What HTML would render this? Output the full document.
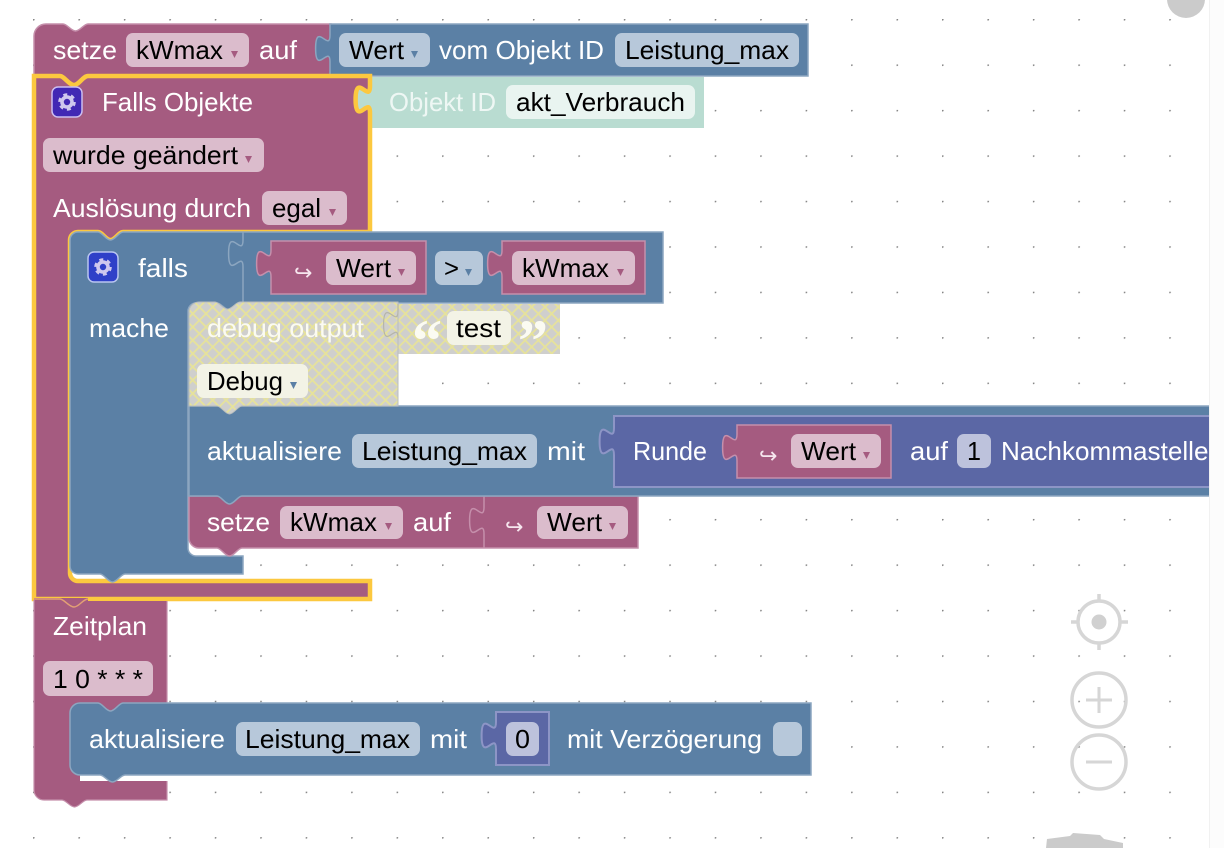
<!DOCTYPE html>
<html><head><meta charset="utf-8"><style>
html,body{margin:0;padding:0;background:#fff;width:1224px;height:848px;overflow:hidden}
svg{display:block}
text{font-family:"Liberation Sans",sans-serif;font-size:26px}
.l{fill:#fff}.k{fill:#000}
.m{fill:#a55b80;stroke:#c58fab;stroke-width:1.5}
.b{fill:#5b80a5;stroke:#8ca6c0;stroke-width:1.5}
.p{fill:#5b67a5;stroke:#8d95c6;stroke-width:2}
.fm{fill:#dbbccc}.fb{fill:#b7c8da}.fp{fill:#bdc2dc}.fy{fill:#f3f3e6}.ft{fill:#e9f4f0}
.am{fill:#a55b80}.ab{fill:#5b80a5}
.c{fill:none;stroke:#d6d6d6;stroke-width:3.5}
.c2{fill:none;stroke:#d6d6d6;stroke-width:3}
.ar{font-family:"DejaVu Sans",sans-serif;font-size:22px;fill:#f6e6ee}
</style></head><body>
<svg width="1224" height="848" viewBox="0 0 1224 848" xmlns="http://www.w3.org/2000/svg">
<defs>
<pattern id="dots" x="33" y="19" width="45.45" height="45.45" patternUnits="userSpaceOnUse"><circle cx="0.6" cy="0.6" r="1" fill="#858585"/></pattern>
<pattern id="h" width="9.4" height="9.4" patternUnits="userSpaceOnUse" patternTransform="rotate(45)"><rect width="9.4" height="9.4" fill="#cfcfcd"/><path d="M0,0H9.4M0,0V9.4" stroke="#e6e29b" stroke-width="3.6"/></pattern>
<g id="gear"><circle r="5" fill="none" stroke="#cfc8ee" stroke-width="3.6"/><circle r="7.4" fill="none" stroke="#cfc8ee" stroke-width="2.8" stroke-dasharray="3.9 3.85"/></g>
</defs>
<rect width="1224" height="848" fill="#fff"/>
<rect x="20" y="0" width="1160" height="848" fill="url(#dots)"/>
<circle cx="1186" cy="-1" r="19" fill="#cbcbcb"/>

<!-- controls -->
<g>
<circle class="c" cx="1099" cy="622" r="21"/><circle cx="1099" cy="622" r="7.5" fill="#d0d0d0"/>
<path class="c" d="M1099,594V601M1099,643V650M1071,622H1078M1120,622H1128"/>
<circle class="c" cx="1099" cy="700" r="27"/><path class="c2" d="M1086,700H1112M1099,687V713"/>
<circle class="c" cx="1099" cy="762" r="27"/><path class="c2" d="M1086,762H1112"/>
<path d="M1047,839L1070,836L1073,833L1100,835L1104,839L1123,843V848H1046Z" fill="#cbcbcb"/>
</g>

<!-- top setze -->
<path class="m" d="M34,36a12,12 0 0 1 12,-12H63c4,0 8,7 12.5,7c4.5,0 8.5,-7 12.5,-7H331V76H88c-4,0 -9,9 -14,9c-5,0 -10,-9 -14,-9H34Z"/>
<path class="b" d="M330,24V35c0,18 -14.4,-14.4 -14.4,13.5s14.4,-4.5 14.4,13.5V76H808V24Z"/>
<text class="l" x="53" y="59" textLength="64" lengthAdjust="spacingAndGlyphs">setze</text>
<rect class="fm" x="126" y="33" width="123" height="34" rx="7"/>
<text class="k" x="136" y="59" textLength="87" lengthAdjust="spacingAndGlyphs">kWmax</text>
<polygon class="am" points="231,51 238,51 234.5,58"/>
<text class="l" x="259" y="59" textLength="38" lengthAdjust="spacingAndGlyphs">auf</text>
<rect class="fb" x="339" y="33" width="91" height="34" rx="7"/>
<text class="k" x="349" y="59" textLength="55" lengthAdjust="spacingAndGlyphs">Wert</text>
<polygon class="ab" points="411,51 418,51 414.5,58"/>
<text class="l" x="439" y="59" textLength="165" lengthAdjust="spacingAndGlyphs">vom Objekt ID</text>
<rect class="fb" x="615" y="33" width="184" height="34" rx="7"/>
<text class="k" x="625" y="59" textLength="164" lengthAdjust="spacingAndGlyphs">Leistung_max</text>

<!-- teal -->
<rect x="350" y="77" width="354" height="51" fill="#b9dcd1"/>
<text x="389" y="111" fill="#eef7f4" textLength="107" lengthAdjust="spacingAndGlyphs">Objekt ID</text>
<rect class="ft" x="506" y="85" width="189" height="34" rx="7"/>
<text class="k" x="516" y="111" textLength="169" lengthAdjust="spacingAndGlyphs">akt_Verbrauch</text>

<!-- falls objekte -->
<path d="M34,76H60c4,0 9,9 14,9c5,0 9,-9 14,-9H370V86c0,18 -14.4,-14.4 -14.4,13.5s14.4,-4.5 14.4,13.5V232H123c-4,0 -8,8 -12.5,8c-4.5,0 -8.5,-8 -12.5,-8H78a8,8 0 0 0 -8,8V573a8,8 0 0 0 8,8H370V599H34Z" fill="#a55b80" stroke="#fcc83f" stroke-width="4.5"/>
<rect x="52" y="87" width="30" height="30" rx="6" fill="#4128b4" stroke="#cbbdf0" stroke-width="1.5"/>
<use href="#gear" x="67" y="102"/>
<text class="l" x="102" y="111" textLength="151" lengthAdjust="spacingAndGlyphs">Falls Objekte</text>
<rect class="fm" x="43" y="138" width="221" height="34" rx="7"/>
<text class="k" x="53" y="164" textLength="185" lengthAdjust="spacingAndGlyphs">wurde geändert</text>
<polygon class="am" points="245,156 252,156 248.5,163"/>
<text class="l" x="53" y="217" textLength="198" lengthAdjust="spacingAndGlyphs">Auslösung durch</text>
<rect class="fm" x="262" y="191" width="85" height="34" rx="7"/>
<text class="k" x="272" y="217" textLength="49" lengthAdjust="spacingAndGlyphs">egal</text>
<polygon class="am" points="329,209 336,209 332.5,216"/>

<!-- falls -->
<path class="b" d="M78,232H98c4,0 8,8 12.5,8c4.5,0 8.5,-8 12.5,-8H663V303H242c-4,0 -8,7 -12.5,7c-4.5,0 -8.5,-7 -12.5,-7H196a8,8 0 0 0 -8,8V548a8,8 0 0 0 8,8H243V574H125c-4,0 -8,8 -12.5,8c-4.5,0 -8.5,-8 -12.5,-8H78a8,8 0 0 1 -8,-8V240a8,8 0 0 1 8,-8Z"/>
<path d="M243,232V240c0,18 -14.4,-14.4 -14.4,13.5s14.4,-4.5 14.4,13.5V302" fill="none" stroke="#8ca6c0" stroke-width="1.5"/>
<rect x="88" y="252" width="30" height="30" rx="6" fill="#2f40c8" stroke="#b9c5f0" stroke-width="1.5"/>
<use href="#gear" x="103" y="267"/>
<text class="l" x="138" y="277" textLength="50" lengthAdjust="spacingAndGlyphs">falls</text>
<text class="l" x="89" y="337" textLength="80" lengthAdjust="spacingAndGlyphs">mache</text>

<path class="m" d="M271,241V250c0,18 -14.4,-14.4 -14.4,13.5s14.4,-4.5 14.4,13.5V294H426V241Z"/>
<text class="ar" x="294" y="280">↪</text>
<rect class="fm" x="326" y="251" width="90" height="34" rx="7"/>
<text class="k" x="336" y="277" textLength="55" lengthAdjust="spacingAndGlyphs">Wert</text>
<polygon class="am" points="398,269 405,269 401.5,276"/>
<rect class="fb" x="435" y="251" width="48" height="34" rx="7"/>
<text class="k" x="444" y="277" textLength="15" lengthAdjust="spacingAndGlyphs">&gt;</text>
<polygon class="ab" points="465,269 472,269 468.5,276"/>
<path class="m" d="M502,241V250c0,18 -14.4,-14.4 -14.4,13.5s14.4,-4.5 14.4,13.5V294H645V241Z"/>
<rect class="fm" x="512" y="251" width="123" height="34" rx="7"/>
<text class="k" x="522" y="277" textLength="87" lengthAdjust="spacingAndGlyphs">kWmax</text>
<polygon class="am" points="617,269 624,269 620.5,276"/>

<!-- setze inner -->
<path class="m" d="M189,496H638V548H242c-4,0 -8,8 -12.5,8c-4.5,0 -8.5,-8 -12.5,-8H199a10,10 0 0 1 -10,-10Z"/>
<path d="M484,496V507c0,18 -14.4,-14.4 -14.4,13.5s14.4,-4.5 14.4,13.5V548" fill="none" stroke="#c58fab" stroke-width="1.5"/>
<text class="l" x="207" y="531" textLength="63" lengthAdjust="spacingAndGlyphs">setze</text>
<rect class="fm" x="280" y="506" width="123" height="33" rx="7"/>
<text class="k" x="290" y="531" textLength="87" lengthAdjust="spacingAndGlyphs">kWmax</text>
<polygon class="am" points="385,523 392,523 388.5,530"/>
<text class="l" x="413" y="531" textLength="38" lengthAdjust="spacingAndGlyphs">auf</text>
<text class="ar" x="505" y="534">↪</text>
<rect class="fm" x="537" y="506" width="91" height="33" rx="7"/>
<text class="k" x="547" y="531" textLength="55" lengthAdjust="spacingAndGlyphs">Wert</text>
<polygon class="am" points="609,523 616,523 612.5,530"/>

<!-- aktualisiere -->
<path class="b" d="M189,406H1220V496H242c-4,0 -8,8 -12.5,8c-4.5,0 -8.5,-8 -12.5,-8H189Z"/>
<text class="l" x="207" y="460" textLength="135" lengthAdjust="spacingAndGlyphs">aktualisiere</text>
<rect class="fb" x="352" y="434" width="185" height="34" rx="7"/>
<text class="k" x="362" y="460" textLength="165" lengthAdjust="spacingAndGlyphs">Leistung_max</text>
<text class="l" x="547" y="460" textLength="38" lengthAdjust="spacingAndGlyphs">mit</text>
<path class="p" d="M614,416V428c0,18 -14.4,-14.4 -14.4,13.5s14.4,-4.5 14.4,13.5V487H1220V416Z"/>
<text class="l" x="633" y="460" textLength="74" lengthAdjust="spacingAndGlyphs">Runde</text>
<path class="m" d="M737,425V434c0,18 -14.4,-14.4 -14.4,13.5s14.4,-4.5 14.4,13.5V478H891V425Z"/>
<text class="ar" x="759" y="463">↪</text>
<rect class="fm" x="791" y="434" width="90" height="34" rx="7"/>
<text class="k" x="801" y="460" textLength="55" lengthAdjust="spacingAndGlyphs">Wert</text>
<polygon class="am" points="863,452 870,452 866.5,459"/>
<text class="l" x="910" y="460" textLength="38" lengthAdjust="spacingAndGlyphs">auf</text>
<rect class="fp" x="957" y="434" width="34" height="34" rx="7"/>
<text class="k" x="967" y="460" textLength="14" lengthAdjust="spacingAndGlyphs">1</text>
<text class="l" x="1001" y="460" textLength="222" lengthAdjust="spacingAndGlyphs">Nachkommastellen</text>
<rect x="1209.5" y="0" width="15" height="848" fill="#fcfcfc"/>
<rect x="1209" y="0" width="1" height="848" fill="#f1f1f1"/>

<!-- debug -->
<rect x="380" y="304" width="180" height="50" fill="url(#h)"/>
<path d="M189,312a10,10 0 0 1 10,-10H215c4,0 8,7 12.5,7c4.5,0 8.5,-7 12.5,-7H398V406H242c-4,0 -8,8 -12.5,8c-4.5,0 -8.5,-8 -12.5,-8H189Z" fill="url(#h)" stroke="#b9bdbd" stroke-width="1"/>
<path d="M398,304V311c0,18 -14.4,-14.4 -14.4,13.5s14.4,-4.5 14.4,13.5" fill="none" stroke="#b5b5a8" stroke-width="1.2"/>
<text x="207" y="337" fill="#fbfbf2" textLength="157" lengthAdjust="spacingAndGlyphs">debug output</text>
<text x="412" y="361" fill="#fbfbf2" style="font-family:'Liberation Serif',serif;font-size:60px;font-weight:bold">“</text>
<rect class="fy" x="447" y="311" width="64" height="34" rx="7"/>
<text class="k" x="456" y="337" textLength="45" lengthAdjust="spacingAndGlyphs">test</text>
<text x="518" y="361" fill="#fbfbf2" style="font-family:'Liberation Serif',serif;font-size:60px;font-weight:bold">”</text>
<rect class="fy" x="197" y="364" width="111" height="34" rx="7"/>
<text class="k" x="207" y="390" textLength="76" lengthAdjust="spacingAndGlyphs">Debug</text>
<polygon class="ab" points="290,382 297,382 293.5,389"/>

<!-- zeitplan -->
<path d="M34,598H88V601H167V800H87c-4,0 -8,7 -12.5,7c-4.5,0 -8.5,-7 -12.5,-7H44a10,10 0 0 1 -10,-10Z" fill="#a55b80"/>
<path d="M34,599H60c4,0 9,8 14,8c5,0 9,-8 14,-8" fill="none" stroke="#e3a074" stroke-width="1.5"/>
<path d="M34,600V790a10,10 0 0 0 10,10H62c4,0 8,7 12.5,7c4.5,0 8.5,-7 12.5,-7H167V781M167,703V601" fill="none" stroke="#c58fab" stroke-width="1.2"/>
<text class="l" x="53" y="635" textLength="94" lengthAdjust="spacingAndGlyphs">Zeitplan</text>
<rect class="fm" x="43" y="661" width="110" height="35" rx="7"/>
<text class="k" x="53" y="688" textLength="90" lengthAdjust="spacingAndGlyphs">1 0 * * *</text>
<path d="M80,781H167V775H80Z" fill="#fff"/>
<path class="b" d="M80,703H98c4,0 8,8 12.5,8c4.5,0 8.5,-8 12.5,-8H811V775H125c-4,0 -8,7 -12.5,7c-4.5,0 -8.5,-7 -12.5,-7H80a10,10 0 0 1 -10,-10V713a10,10 0 0 1 10,-10Z"/>
<text class="l" x="89" y="748" textLength="136" lengthAdjust="spacingAndGlyphs">aktualisiere</text>
<rect class="fb" x="236" y="722" width="184" height="34" rx="7"/>
<text class="k" x="245" y="748" textLength="165" lengthAdjust="spacingAndGlyphs">Leistung_max</text>
<text class="l" x="430" y="748" textLength="37" lengthAdjust="spacingAndGlyphs">mit</text>
<path class="p" d="M496,712V722c0,18 -14.4,-14.4 -14.4,13.5s14.4,-4.5 14.4,13.5V765H549V712Z"/>
<rect class="fp" x="506" y="722" width="33" height="34" rx="7"/>
<text class="k" x="515" y="748" textLength="15" lengthAdjust="spacingAndGlyphs">0</text>
<text class="l" x="567" y="748" textLength="195" lengthAdjust="spacingAndGlyphs">mit Verzögerung</text>
<rect class="fb" x="773" y="722" width="29" height="34" rx="7"/>
</svg>
</body></html>
